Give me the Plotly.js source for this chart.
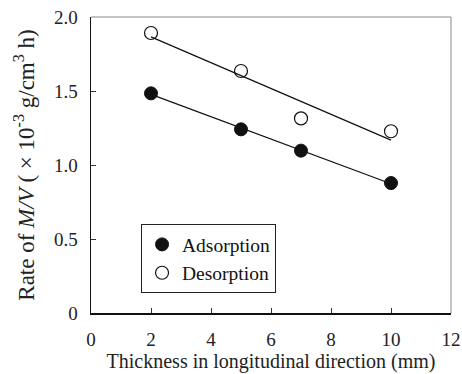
<!DOCTYPE html>
<html><head><meta charset="utf-8">
<script src="https://cdn.plot.ly/plotly-3.0.1.min.js"></script>
<style>body{margin:0;background:#fff}#c{width:462px;height:374px}</style>
</head><body><div id="c"></div>
<script>
const thickness = [2, 5, 7, 10];
const adsorption = [1.484, 1.241, 1.097, 0.878];
const desorption = [1.892, 1.635, 1.315, 1.228];
const fitX = [2, 10];
const adsorptionFit = [1.477, 0.873];
const desorptionFit = [1.866, 1.168];
const yTickVals = [0, 0.5, 1.0, 1.5, 2.0];
const yTickText = ["0", "0.5", "1.0", "1.5", "2.0"];
const xTickVals = [0, 2, 4, 6, 8, 10, 12];

const fam = "Liberation Serif, Times New Roman, serif";

const traces = [
  {x: fitX, y: desorptionFit, mode: "lines", line: {color: "#111", width: 1.2}, showlegend: false, hoverinfo: "skip"},
  {x: fitX, y: adsorptionFit, mode: "lines", line: {color: "#111", width: 1.2}, showlegend: false, hoverinfo: "skip"},
  {x: thickness, y: adsorption, mode: "markers", name: "Adsorption",
   marker: {symbol: "circle", size: 13, color: "#111", line: {color: "#111", width: 1}}},
  {x: thickness, y: desorption, mode: "markers", name: "Desorption",
   marker: {symbol: "circle-open", size: 13, color: "#111", line: {color: "#111", width: 1.2}}}
];

const layout = {
  width: 462, height: 374,
  margin: {l: 91, r: 11, t: 17, b: 61},
  paper_bgcolor: "#fff", plot_bgcolor: "#fff",
  font: {family: fam, color: "#222", size: 19},
  showlegend: true,
  legend: {x: 0.139, y: 0.300, xanchor: "left", yanchor: "top",
    bordercolor: "#222", borderwidth: 1, bgcolor: "#fff",
    font: {family: fam, size: 19.5, color: "#111"}, itemwidth: 30, tracegroupgap: 0},
  xaxis: {range: [0, 12], tickvals: xTickVals, ticks: "inside", ticklen: 5, tickcolor: "#333",
    showgrid: false, zeroline: false, showline: true, linecolor: "#111", linewidth: 1.5,
    ticklabelstandoff: 9,
    tickfont: {size: 19, family: fam, color: "#222"},
    title: {text: "Thickness in longitudinal direction (mm)", standoff: 4, font: {size: 20, family: fam, color: "#222"}}},
  yaxis: {range: [0, 2], tickvals: yTickVals, ticktext: yTickText, ticks: "inside", ticklen: 5, tickcolor: "#333",
    showgrid: false, zeroline: false, showline: true, linecolor: "#111", linewidth: 1.5,
    ticklabelstandoff: 8,
    tickfont: {size: 19, family: fam, color: "#222"},
    title: {text: "Rate of <i>M/V</i> ( × 10<sup>-3</sup> g/cm<sup>3</sup> h)", standoff: 13, font: {size: 23, family: fam, color: "#222"}}},
  shapes: [
    {type: "line", xref: "paper", yref: "paper", x0: 0, x1: 1, y0: 1, y1: 1, line: {color: "#888", width: 1}},
    {type: "line", xref: "paper", yref: "paper", x0: 1, x1: 1, y0: 0, y1: 1, line: {color: "#888", width: 1}}
  ]
};
Plotly.newPlot("c", traces, layout, {staticPlot: true, displayModeBar: false});
</script></body></html>
